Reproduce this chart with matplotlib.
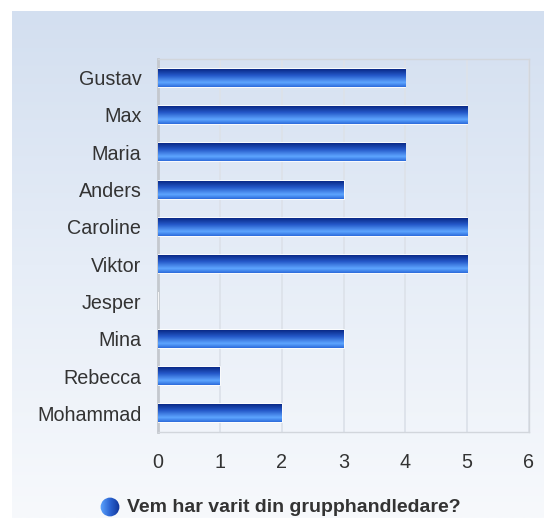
import numpy as np
import matplotlib
matplotlib.use('Agg')
import matplotlib.pyplot as plt
from matplotlib.colors import LinearSegmentedColormap
from matplotlib.patches import Circle

plt.rcParams['font.family'] = ['Liberation Sans', 'DejaVu Sans']

names = ['Gustav', 'Max', 'Maria', 'Anders', 'Caroline', 'Viktor',
         'Jesper', 'Mina', 'Rebecca', 'Mohammad']
counts = [4, 5, 4, 3, 5, 5, 0, 3, 1, 2]
x_ticks = [0, 1, 2, 3, 4, 5, 6]
legend_label = 'Vem har varit din grupphandledare?'

W, H = 544, 518
fig = plt.figure(figsize=(W / 100, H / 100), dpi=100)
fig.patch.set_facecolor('white')

# page background gradient
bg = fig.add_axes([12 / W, 0, 1 - 12 / W, (H - 11) / H])
bg_cmap = LinearSegmentedColormap.from_list('bg', ['#d3dff0', '#e6edf7', '#f7f9fc'])
bg.imshow(np.linspace(0, 1, 256).reshape(-1, 1), aspect='auto', cmap=bg_cmap,
          extent=[0, 1, 0, 1], origin='upper')
bg.set_axis_off()

ax = fig.add_axes([158 / W, (H - 432) / H, 371 / W, 373 / H])
ax.patch.set_alpha(0)

bar_cmap = LinearSegmentedColormap.from_list(
    'bar', [(0, '#0a2a88'), (0.35, '#2458c8'), (0.75, '#5ea6ff'), (1, '#2d6cdc')])
grad = np.linspace(0, 1, 64).reshape(-1, 1)

y = np.arange(len(names))
bars = ax.barh(y, counts, height=0.48, color='#3c78e0', edgecolor='white',
               linewidth=1.2, zorder=3)
for b in bars:
    bx, by = b.get_x(), b.get_y()
    bw, bh = b.get_width(), b.get_height()
    if bw <= 0:
        continue
    im = ax.imshow(grad, aspect='auto', cmap=bar_cmap, origin='upper',
                   extent=[bx, bx + bw, by + bh, by], zorder=3.5)
    im.set_clip_path(b)

ax.set_xlim(0, 6)
ax.set_ylim(len(names) - 0.5, -0.5)
ax.set_yticks(y)
ax.set_yticklabels(names)
ax.set_xticks(x_ticks)
ax.tick_params(axis='both', length=0, labelsize=14.2, labelcolor='#333333')
ax.tick_params(axis='y', pad=12)
ax.tick_params(axis='x', pad=15)
ax.grid(axis='x', color='#dde2ea', linewidth=1.3, zorder=0)
for side in ['top', 'right', 'bottom']:
    ax.spines[side].set_color('#d2d6dc')
    ax.spines[side].set_linewidth(1)
ax.spines['left'].set_color('#c4c8ce')
ax.spines['left'].set_linewidth(2)

# legend
lg = fig.add_axes([100 / W, (H - 517) / H, 20 / W, 20 / H])
lg.set_xlim(0, 1)
lg.set_ylim(0, 1)
lg.set_axis_off()
circ = Circle((0.5, 0.5), 0.47, transform=lg.transAxes, facecolor='none', edgecolor='none')
lg.add_patch(circ)
leg_cmap = LinearSegmentedColormap.from_list('leg', ['#5ea6ff', '#2a62d0', '#0e2f92'])
lim = lg.imshow(np.linspace(0, 1, 64).reshape(1, -1), aspect='auto', cmap=leg_cmap,
                extent=[0, 1, 0, 1])
lim.set_clip_path(circ)
fig.text(127 / W, (H - 508) / H, legend_label, fontsize=14, fontweight='bold',
         color='#333333', va='center', ha='left')

fig.savefig('out.png', dpi=100)
